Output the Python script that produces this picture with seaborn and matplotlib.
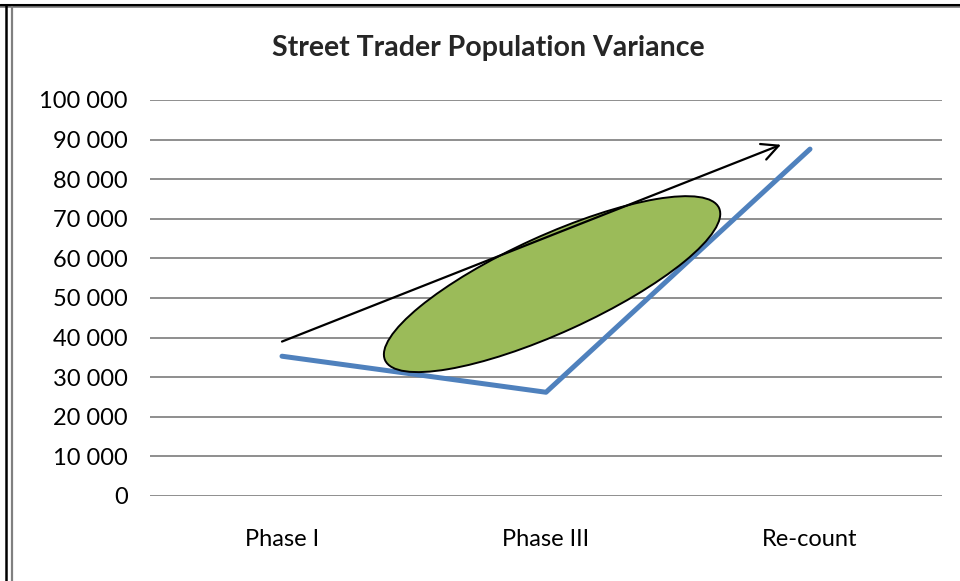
import matplotlib
matplotlib.use("Agg")
import matplotlib.pyplot as plt
import matplotlib.ticker as mtick
import matplotlib.transforms as mtrans
from matplotlib.patches import Ellipse
from matplotlib.lines import Line2D
import seaborn as sns

# ── Data ──────────────────────────────────────────────────────────────────────
phases = ["Phase I", "Phase III", "Re-count"]
traders = [35300, 26200, 87600]
y_ticks = list(range(0, 100001, 10000))

# annotation shapes (data units)
arrow_start = (0.0, 39000)
arrow_end = (1.89, 88700)
ellipse_center = (1.023, 53500)

# ── Style ─────────────────────────────────────────────────────────────────────
sns.set_style("white")
plt.rcParams["font.family"] = ["Lato", "DejaVu Sans"]

BLUE = "#4F81BD"
GREEN = "#9BBB59"
GRID = "#868686"

fig = plt.figure(figsize=(9.6, 5.81), dpi=100)
ax = fig.add_axes([150 / 960, 1 - 496 / 581, 792 / 960, 396 / 581])

sns.lineplot(x=list(range(len(phases))), y=traders, ax=ax, color=BLUE,
             linewidth=3.6, sort=False)

ax.set_xlim(-0.5, len(phases) - 0.5)
ax.set_ylim(0, 100000)
ax.set_yticks(y_ticks)
ax.yaxis.set_major_formatter(mtick.FuncFormatter(
    lambda v, _: f"{int(v):,}".replace(",", " ")))
ax.set_xticks(range(len(phases)))
ax.set_xticklabels(phases)
ax.tick_params(axis="both", length=0, labelsize=17, colors="#000000")
ax.tick_params(axis="y", pad=16)
ax.tick_params(axis="x", pad=24)
for s in ax.spines.values():
    s.set_visible(False)
ax.yaxis.grid(True, color=GRID, linewidth=1.3)
ax.set_axisbelow(True)

# green ellipse, sized in inches so its shape is independent of axis scale
ell_tr = fig.dpi_scale_trans + mtrans.ScaledTranslation(
    ellipse_center[0], ellipse_center[1], ax.transData)
ax.add_patch(Ellipse((0, 0), 3.67, 0.97, angle=24.5, transform=ell_tr,
                     facecolor=GREEN, edgecolor="black", linewidth=1.4,
                     zorder=3))

ax.annotate("", xy=arrow_end, xytext=arrow_start,
            arrowprops=dict(arrowstyle="->", color="black", lw=1.6,
                            mutation_scale=30, shrinkA=0, shrinkB=0),
            zorder=4)

fig.text(488 / 960, 1 - 48 / 581, "Street Trader Population Variance",
         ha="center", va="center", fontsize=20.5, fontweight="bold")

# document frame
fig.add_artist(Line2D([0, 1], [1 - 4.5 / 581] * 2, color="black", lw=2.2))
fig.add_artist(Line2D([0, 1], [1 - 6.8 / 581] * 2, color="#808080", lw=1.2))
fig.add_artist(Line2D([6 / 960] * 2, [0, 1 - 4.5 / 581], color="black", lw=1.8))
fig.add_artist(Line2D([11.5 / 960] * 2, [0, 1 - 6.8 / 581], color="#808080", lw=1.6))

fig.savefig("out.png", dpi=100)
